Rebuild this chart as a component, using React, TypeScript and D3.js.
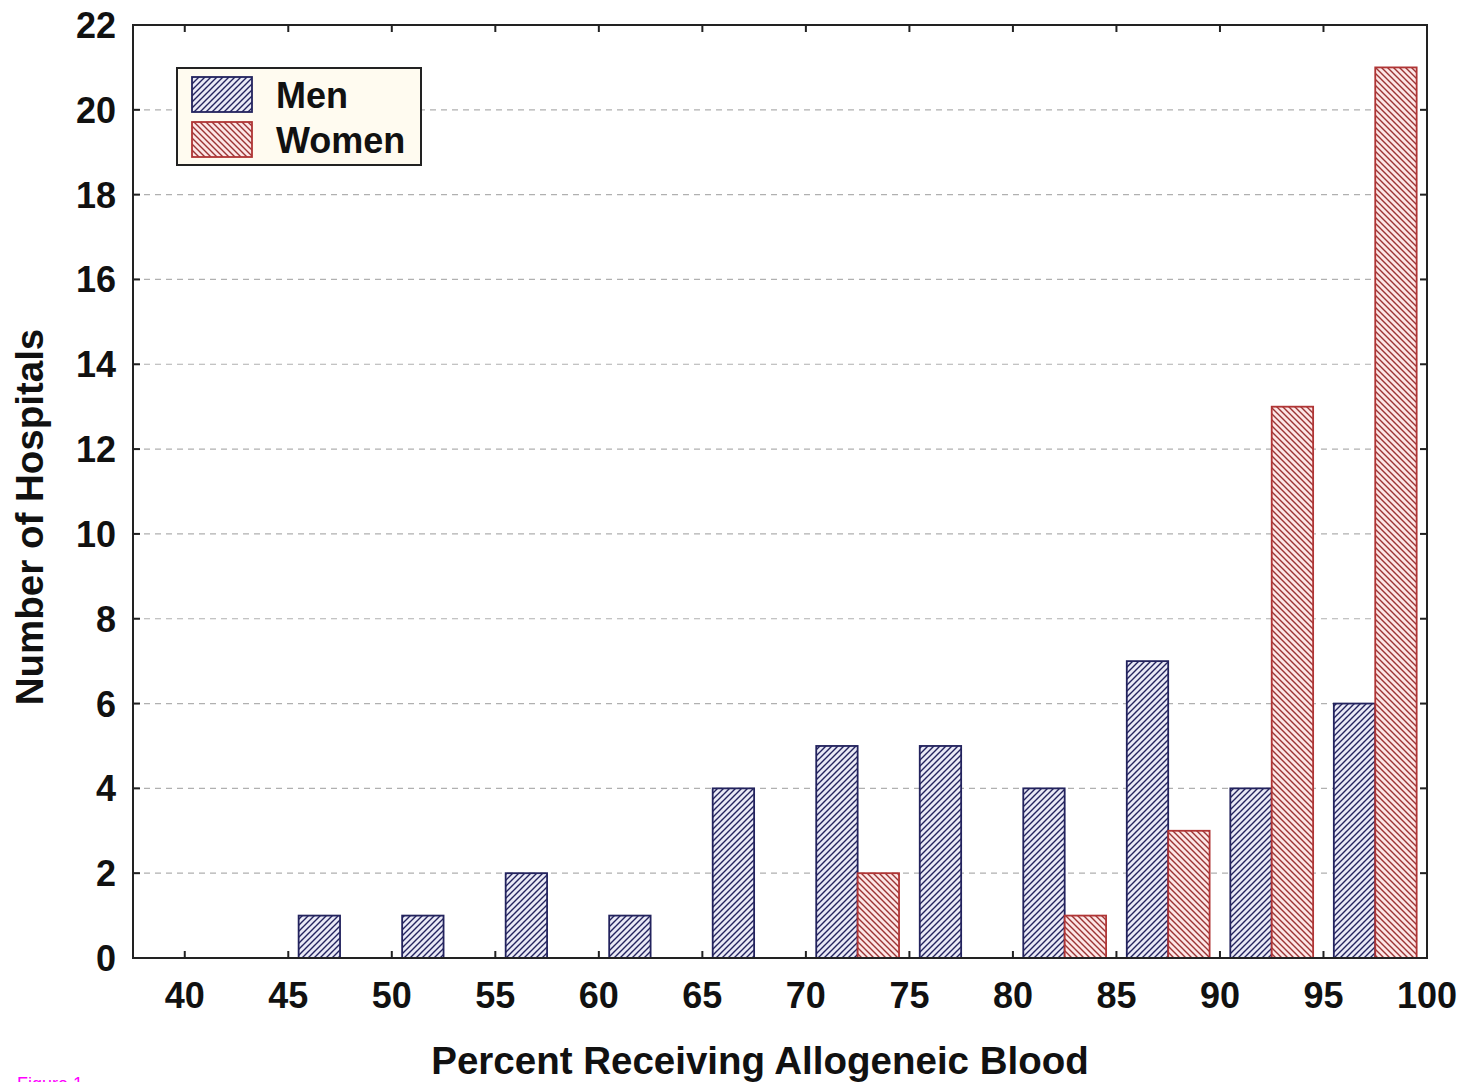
import React from "react";
import * as d3 from "d3";

// bins are labelled by their lower edge (45 = 45-50)
const binStarts = [40, 45, 50, 55, 60, 65, 70, 75, 80, 85, 90, 95];
const menCounts = [0, 1, 1, 2, 1, 4, 5, 5, 4, 7, 4, 6];
const womenCounts = [0, 0, 0, 0, 0, 0, 2, 0, 1, 3, 13, 21];
const xTicks = [40, 45, 50, 55, 60, 65, 70, 75, 80, 85, 90, 95, 100];
const yTicks = [0, 2, 4, 6, 8, 10, 12, 14, 16, 18, 20, 22];
const seriesNames = ["Men", "Women"];

const W = 1466;
const H = 1082;
const left = 133;
const right = 1427;
const top = 25;
const bottom = 958;

const FONT = "'Liberation Sans', Arial, sans-serif";

export default function App() {
  const x = d3.scaleLinear().domain([37.5, 100]).range([left, right]);
  const y = d3.scaleLinear().domain([0, 22]).range([bottom, top]);

  const men = binStarts.map((b, i) => ({ b, v: menCounts[i] })).filter(d => d.v > 0);
  const women = binStarts.map((b, i) => ({ b, v: womenCounts[i] })).filter(d => d.v > 0);

  return (
    <svg
      width={W}
      height={H}
      style={{ position: "absolute", left: 0, top: 0, background: "#fff" }}
    >
      <defs>
        <pattern id="hatchMen" patternUnits="userSpaceOnUse" width="6" height="6">
          <rect width="6" height="6" fill="#e9e9f6" />
          <path d="M-1,1 l2,-2 M0,6 l6,-6 M5,7 l2,-2" stroke="#23235e" strokeWidth="1.4" />
        </pattern>
        <pattern id="hatchWomen" patternUnits="userSpaceOnUse" width="6" height="6">
          <rect width="6" height="6" fill="#fce6e6" />
          <path d="M-1,5 l2,2 M0,0 l6,6 M5,-1 l2,2" stroke="#9c3434" strokeWidth="1.4" />
        </pattern>
      </defs>

      {/* grid */}
      {yTicks.slice(1, -1).map(t => (
        <line
          key={"g" + t}
          x1={left}
          x2={right}
          y1={y(t)}
          y2={y(t)}
          stroke="#b0b0b0"
          strokeWidth={1.2}
          strokeDasharray="6,5"
        />
      ))}

      {/* bars */}
      {men.map(d => (
        <rect
          key={"m" + d.b}
          x={x(d.b + 0.5)}
          y={y(d.v)}
          width={x(d.b + 2.5) - x(d.b + 0.5)}
          height={y(0) - y(d.v)}
          fill="url(#hatchMen)"
          stroke="#23235e"
          strokeWidth={1.8}
        />
      ))}
      {women.map(d => (
        <rect
          key={"w" + d.b}
          x={x(d.b + 2.5)}
          y={y(d.v)}
          width={x(d.b + 4.5) - x(d.b + 2.5)}
          height={y(0) - y(d.v)}
          fill="url(#hatchWomen)"
          stroke="#b03535"
          strokeWidth={1.8}
        />
      ))}

      {/* frame */}
      <rect
        x={left}
        y={top}
        width={right - left}
        height={bottom - top}
        fill="none"
        stroke="#222"
        strokeWidth={2}
      />

      {/* ticks */}
      {xTicks.map(t => (
        <g key={"xt" + t}>
          <line x1={x(t)} x2={x(t)} y1={bottom} y2={bottom - 7} stroke="#222" strokeWidth={2} />
          <line x1={x(t)} x2={x(t)} y1={top} y2={top + 7} stroke="#222" strokeWidth={2} />
          <text
            x={x(t)}
            y={1008}
            textAnchor="middle"
            fontFamily={FONT}
            fontWeight="bold"
            fontSize={36}
            fill="#111"
          >
            {t}
          </text>
        </g>
      ))}
      {yTicks.map(t => (
        <g key={"yt" + t}>
          <line x1={left} x2={left + 7} y1={y(t)} y2={y(t)} stroke="#222" strokeWidth={2} />
          <line x1={right} x2={right - 7} y1={y(t)} y2={y(t)} stroke="#222" strokeWidth={2} />
          <text
            x={116}
            y={y(t) + 13}
            textAnchor="end"
            fontFamily={FONT}
            fontWeight="bold"
            fontSize={36}
            fill="#111"
          >
            {t}
          </text>
        </g>
      ))}

      {/* axis titles */}
      <text
        x={760}
        y={1074}
        textAnchor="middle"
        fontFamily={FONT}
        fontWeight="bold"
        fontSize={38.5}
        fill="#111"
      >
        Percent Receiving Allogeneic Blood
      </text>
      <text
        transform={`translate(43, 517) rotate(-90)`}
        textAnchor="middle"
        fontFamily={FONT}
        fontWeight="bold"
        fontSize={38.5}
        fill="#111"
      >
        Number of Hospitals
      </text>

      {/* legend */}
      <g>
        <rect x={177} y={68} width={244} height={97} fill="#fffbf0" stroke="#222" strokeWidth={2} />
        {seriesNames.map((name, i) => (
          <g key={name}>
            <rect
              x={192}
              y={77 + i * 45}
              width={60}
              height={35}
              fill={i === 0 ? "url(#hatchMen)" : "url(#hatchWomen)"}
              stroke={i === 0 ? "#23235e" : "#b03535"}
              strokeWidth={1.8}
            />
            <text
              x={276}
              y={108 + i * 45}
              fontFamily={FONT}
              fontWeight="bold"
              fontSize={36}
              fill="#111"
            >
              {name}
            </text>
          </g>
        ))}
      </g>

      <text x={17} y={1090} fontFamily={FONT} fontSize={18} fill="#ff00ff">
        Figure 1
      </text>
    </svg>
  );
}
